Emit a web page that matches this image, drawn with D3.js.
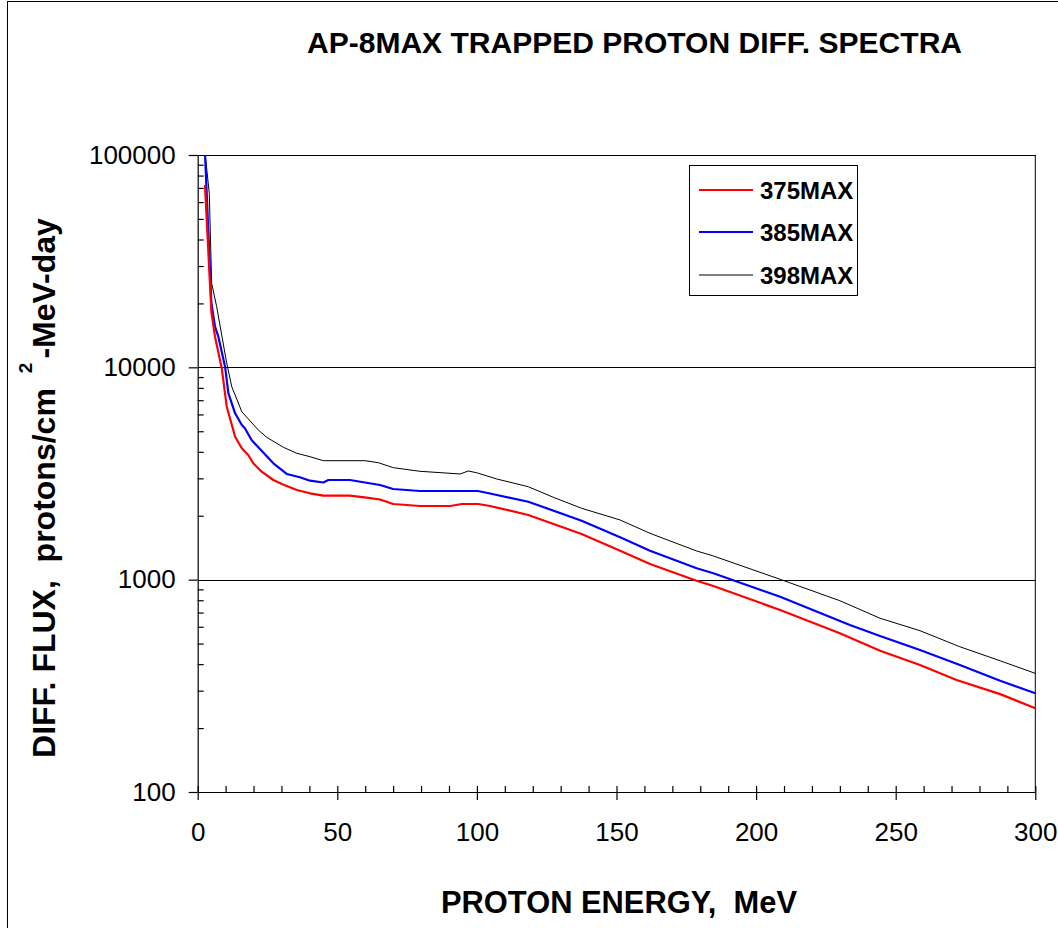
<!DOCTYPE html>
<html><head><meta charset="utf-8">
<script src="https://cdn.jsdelivr.net/npm/d3@7"></script>
<style>
html,body{margin:0;padding:0;background:#fff;}
svg{display:block;font-family:"Liberation Sans",Arial,sans-serif;}
text{white-space:pre;}
</style></head>
<body>
<svg id="chart" width="1058" height="928"></svg>
<script>
// ---- data ----
const seriesNames = ["375MAX", "385MAX", "398MAX"];
const seriesColors = ["#ff0000", "#0000ff", "#000000"];

const energy375 = [2.6, 4.9, 6.2, 8.6, 10.4, 13.4, 15.8, 18.1, 19.9, 22.9, 27.1, 30.1, 35.5, 40.2, 45, 54.5, 60.5, 65.3, 70, 79.6, 90.4, 94.6, 100.5, 104.7, 118.4, 137.5, 151.3, 162, 178.7, 184.7, 208.6, 230, 244.4, 258.7, 271.8, 287.4, 300];
const flux375 = [72300, 18200, 13940, 9930, 6525, 4714, 4156, 3865, 3532, 3225, 2947, 2822, 2644, 2551, 2486, 2486, 2432, 2385, 2272, 2223, 2223, 2272, 2272, 2223, 2016, 1641, 1369, 1185, 989, 933, 720, 559, 463, 396, 337, 289, 248];

const energy385 = [2.6, 4.9, 6.2, 7.4, 9.8, 11.0, 13.4, 15.8, 16.9, 19.3, 21.7, 27.1, 31.9, 36.6, 40.2, 45, 46.8, 54.5, 65.3, 70, 79.6, 100.4, 104.7, 118.4, 137.5, 151.3, 162, 178.7, 184.7, 208.6, 233.6, 244.4, 258.7, 273, 287.4, 300];
const flux385 = [103000, 20090, 15540, 13940, 10070, 7545, 6075, 5350, 5162, 4548, 4201, 3532, 3146, 3035, 2925, 2868, 2947, 2947, 2791, 2673, 2616, 2616, 2546, 2329, 1896, 1583, 1369, 1131, 1072, 831, 612, 543, 466, 396, 334, 292];

const energy398 = [2.6, 4.15, 5.0, 6.8, 8.6, 10.4, 12.2, 15.8, 21.7, 24.7, 30.7, 35.5, 40.2, 45, 59.9, 64.7, 70.1, 79.6, 94, 96.9, 99.9, 107.1, 118.4, 127.4, 137.5, 151.3, 162, 178.7, 184.7, 208.6, 230, 244.4, 258.7, 273, 287.4, 300];
const flux398 = [103000, 66000, 24880, 19300, 14200, 10450, 8103, 6180, 5067, 4684, 4201, 3937, 3795, 3634, 3634, 3555, 3368, 3239, 3146, 3249, 3189, 2980, 2740, 2443, 2169, 1910, 1653, 1365, 1293, 1004, 796, 658, 575, 483, 415, 362];

const xMajorTicks = [0, 50, 100, 150, 200, 250, 300];
const xMinorTicks = d3.range(0, 301, 10);
const yMajorTicks = [100, 1000, 10000, 100000];
const yMinorTicks = [];
[100, 1000, 10000].forEach(d => { for (let k = 2; k <= 9; k++) yMinorTicks.push(d * k); });

const titleText = "AP-8MAX TRAPPED PROTON DIFF. SPECTRA";
const xTitleText = "PROTON ENERGY,  MeV";
const yTitleMain = "DIFF. FLUX,  protons/cm";
const yTitleSup = "2";
const yTitleTail = "-MeV-day";

// ---- layout ----
const L = 197.7, R = 1035.3, T = 155, B = 792;
const svg = d3.select("#chart");
const x = d3.scaleLinear().domain([0, 300]).range([L, R]);
const y = d3.scaleLog().domain([100, 100000]).range([B, T]);

// outer chart border
svg.append("rect").attr("x", 7.5).attr("y", 1.5).attr("width", 1100).attr("height", 1000)
  .attr("fill", "none").attr("stroke", "#000").attr("stroke-width", 1);

// gridlines at decades
svg.append("g").selectAll("line").data([1000, 10000, 100000]).join("line")
  .attr("x1", L).attr("x2", R).attr("y1", d => Math.round(y(d)) + 0.5).attr("y2", d => Math.round(y(d)) + 0.5)
  .attr("stroke", "#000").attr("stroke-width", 1);

// right plot border
svg.append("line").attr("x1", R).attr("x2", R).attr("y1", T).attr("y2", B)
  .attr("stroke", "#000").attr("stroke-width", 1);

// clip
svg.append("clipPath").attr("id", "plotclip").append("rect")
  .attr("x", L).attr("y", T).attr("width", R - L).attr("height", B - T);

// series
const series = [
  {name: seriesNames[0], color: seriesColors[0], w: 2.2, data: energy375.map((e, i) => [e, flux375[i]])},
  {name: seriesNames[1], color: seriesColors[1], w: 2.2, data: energy385.map((e, i) => [e, flux385[i]])},
  {name: seriesNames[2], color: seriesColors[2], w: 1, data: energy398.map((e, i) => [e, flux398[i]])}
];
const line = d3.line().x(d => x(d[0])).y(d => y(d[1]));
const gLines = svg.append("g").attr("clip-path", "url(#plotclip)");
[series[2], series[1], series[0]].forEach(s => {
  gLines.append("path").attr("d", line(s.data)).attr("fill", "none")
    .attr("stroke", s.color).attr("stroke-width", s.w).attr("stroke-linejoin", "round");
});

// axes
const tickFont = 26;
const gx = svg.append("g").attr("transform", `translate(0,${B})`);
gx.call(d3.axisBottom(x).tickValues(xMajorTicks).tickSize(8).tickPadding(23).tickFormat(d3.format("d")));
const gxm = svg.append("g").attr("transform", `translate(0,${B})`);
gxm.call(d3.axisBottom(x).tickValues(xMinorTicks).tickSize(-6).tickFormat(""));
gxm.select(".domain").remove();

const gy = svg.append("g").attr("transform", `translate(${L},0)`);
gy.call(d3.axisLeft(y).tickValues(yMajorTicks).tickSize(9).tickPadding(13).tickFormat(d3.format("d")));
const gym = svg.append("g").attr("transform", `translate(${L},0)`);
gym.call(d3.axisLeft(y).tickValues(yMinorTicks).tickSize(-6).tickFormat(""));
gym.select(".domain").remove();

[gx, gy, gxm, gym].forEach(g => {
  g.selectAll(".domain").attr("stroke", "#000").attr("stroke-width", 1.2);
  g.selectAll(".tick line").attr("stroke", "#000").attr("stroke-width", 1.2);
  g.selectAll(".tick text").attr("fill", "#000")
    .style("font-family", '"Liberation Sans", Arial, sans-serif').style("font-size", tickFont + "px");
});
gx.select(".domain").attr("d", `M${L},0.5H${R}`);
gy.select(".domain").attr("d", `M0.5,${T}V${B}`);

// title
svg.append("text").attr("x", 634.5).attr("y", 53).attr("text-anchor", "middle")
  .attr("font-weight", "bold").attr("font-size", 30)
  .attr("textLength", 655).attr("lengthAdjust", "spacingAndGlyphs").text(titleText);

// x title
svg.append("text").attr("x", 619).attr("y", 913).attr("text-anchor", "middle")
  .attr("font-weight", "bold").attr("font-size", 31)
  .attr("textLength", 356).attr("lengthAdjust", "spacingAndGlyphs").text(xTitleText);

// y title
const yt = svg.append("text").attr("transform", "translate(55,488) rotate(-90)")
  .attr("text-anchor", "middle").attr("font-weight", "bold").attr("font-size", 32);
yt.append("tspan").text(yTitleMain);
yt.append("tspan").attr("dx", 15).attr("dy", -23).attr("font-size", 19).text(yTitleSup);
yt.append("tspan").attr("dx", 4).attr("dy", 23).text(yTitleTail);

// legend
const lg = svg.append("g");
lg.append("rect").attr("x", 689.5).attr("y", 165.5).attr("width", 168).attr("height", 130)
  .attr("fill", "#fff").attr("stroke", "#000").attr("stroke-width", 1);
const legendY = [190, 232, 275];
series.forEach((s, i) => {
  lg.append("line").attr("x1", 699).attr("x2", 753).attr("y1", legendY[i]).attr("y2", legendY[i])
    .attr("stroke", s.color).attr("stroke-width", s.w);
  lg.append("text").attr("x", 760).attr("y", legendY[i] + 8.6).attr("font-weight", "bold")
    .attr("font-size", 24).text(s.name);
});
</script>
</body></html>
